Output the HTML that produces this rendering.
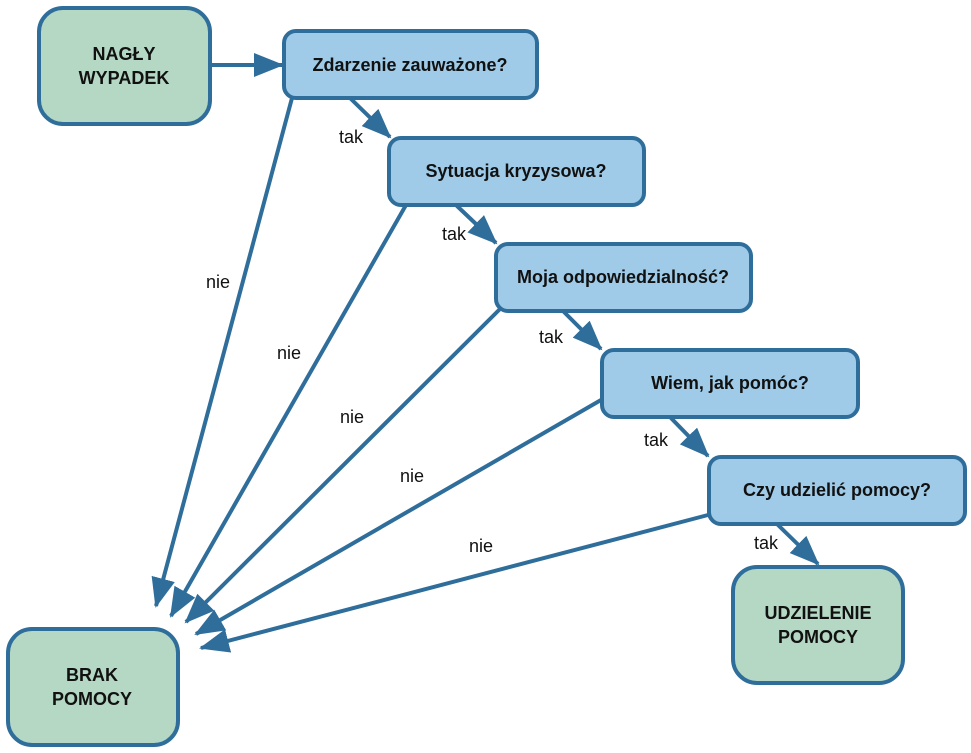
<!DOCTYPE html>
<html><head><meta charset="utf-8"><style>
html,body{margin:0;padding:0;background:#fff;}
svg{display:block;}
text{font-family:"Liberation Sans",sans-serif;}
.b{font-weight:bold;font-size:18px;fill:#111;}
.l{font-size:18px;fill:#111;}
</style></head><body>
<svg width="971" height="753" viewBox="0 0 971 753" xmlns="http://www.w3.org/2000/svg">
<defs>
<marker id="a" markerUnits="userSpaceOnUse" markerWidth="32" markerHeight="26" refX="28" refY="12" orient="auto">
<path d="M0,0 L30,12 L0,24 z" fill="#2f6e9b"/>
</marker>
</defs>
<g stroke="#2f6e9b" stroke-width="4" fill="none" marker-end="url(#a)">
<line x1="210" y1="65" x2="282" y2="65"/>
<line x1="350" y1="98" x2="390" y2="137"/>
<line x1="456" y1="205" x2="496" y2="243"/>
<line x1="563" y1="311" x2="601" y2="349"/>
<line x1="670" y1="417" x2="708" y2="456"/>
<line x1="777" y1="524" x2="818" y2="564"/>
<line x1="292" y1="98" x2="156" y2="606"/>
<line x1="406" y1="205" x2="171" y2="616"/>
<line x1="500" y1="309" x2="186" y2="622"/>
<line x1="601" y1="400" x2="196" y2="634"/>
<line x1="708" y1="515" x2="201" y2="648"/>
</g>
<g stroke="#2f6e9b" stroke-width="4">
<rect x="39" y="8" width="171" height="116" rx="24" fill="#b5d8c4"/>
<rect x="8" y="629" width="170" height="116" rx="24" fill="#b5d8c4"/>
<rect x="733" y="567" width="170" height="116" rx="24" fill="#b5d8c4"/>
<rect x="284" y="31" width="253" height="67" rx="12" fill="#9fcbe8"/>
<rect x="389" y="138" width="255" height="67" rx="12" fill="#9fcbe8"/>
<rect x="496" y="244" width="255" height="67" rx="12" fill="#9fcbe8"/>
<rect x="602" y="350" width="256" height="67" rx="12" fill="#9fcbe8"/>
<rect x="709" y="457" width="256" height="67" rx="12" fill="#9fcbe8"/>
</g>
<g class="b" text-anchor="middle">
<text x="124" y="60">NAGŁY</text>
<text x="124" y="84">WYPADEK</text>
<text x="92" y="681">BRAK</text>
<text x="92" y="705">POMOCY</text>
<text x="818" y="619">UDZIELENIE</text>
<text x="818" y="643">POMOCY</text>
<text x="410" y="71">Zdarzenie zauważone?</text>
<text x="516" y="177">Sytuacja kryzysowa?</text>
<text x="623" y="283">Moja odpowiedzialność?</text>
<text x="730" y="389">Wiem, jak pomóc?</text>
<text x="837" y="496">Czy udzielić pomocy?</text>
</g>
<g class="l" text-anchor="middle">
<text x="351" y="143">tak</text>
<text x="454" y="240">tak</text>
<text x="551" y="343">tak</text>
<text x="656" y="446">tak</text>
<text x="766" y="549">tak</text>
<text x="218" y="288">nie</text>
<text x="289" y="359">nie</text>
<text x="352" y="423">nie</text>
<text x="412" y="482">nie</text>
<text x="481" y="552">nie</text>
</g>
</svg>
</body></html>
